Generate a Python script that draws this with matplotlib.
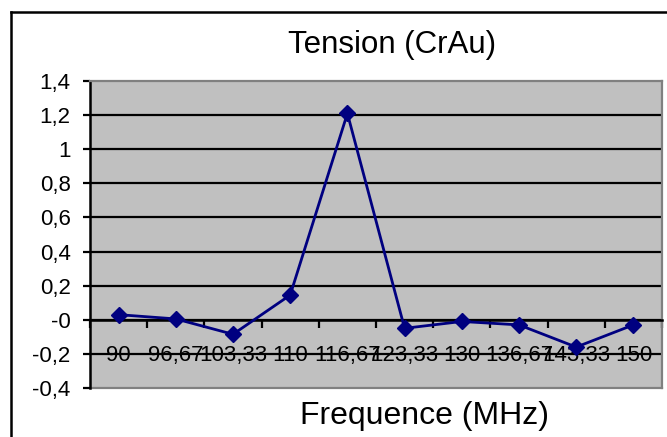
import matplotlib
matplotlib.use("Agg")
import matplotlib.pyplot as plt
from matplotlib.lines import Line2D

plt.rcParams["font.family"] = ["Liberation Sans", "DejaVu Sans"]

# data
freq_labels = ["90", "96,67", "103,33", "110", "116,67", "123,33", "130", "136,67", "143,33", "150"]
tension = [0.03, 0.005, -0.085, 0.145, 1.21, -0.05, -0.01, -0.03, -0.16, -0.03]
y_ticks = [-0.4, -0.2, 0.0, 0.2, 0.4, 0.6, 0.8, 1.0, 1.2, 1.4]
y_tick_labels = ["-0,4", "-0,2", "-0", "0,2", "0,4", "0,6", "0,8", "1", "1,2", "1,4"]

W, H = 667, 437
fig = plt.figure(figsize=(W / 100, H / 100), dpi=100)
fig.patch.set_facecolor("white")

# chart-area frame (only top and left edges are visible)
fig.add_artist(Line2D([11 / W, 11 / W], [0, 1 - 12 / H], color="black", lw=1.8,
                      transform=fig.transFigure))
fig.add_artist(Line2D([11 / W, 1], [1 - 12 / H, 1 - 12 / H], color="black", lw=1.8,
                      transform=fig.transFigure))

ax = fig.add_axes([90 / W, 49 / H, 572 / W, 307 / H])
ax.set_facecolor("#C0C0C0")

x = list(range(len(freq_labels)))
ax.plot(x, tension, color="#000080", lw=2, marker="D", ms=8, mfc="#000080", mec="#000080",
        zorder=4, clip_on=False)

ax.set_xlim(-0.5, len(freq_labels) - 0.5)
ax.set_ylim(-0.4, 1.4)

# horizontal gridlines
for yv in y_ticks[1:-1]:
    ax.axhline(yv, color="black", lw=1.6, zorder=1)

ax.set_yticks(y_ticks)
ax.set_yticklabels(y_tick_labels)
ax.tick_params(axis="y", direction="out", length=5, width=1.6, pad=9, labelsize=16)

# category axis crossing at zero: ticks between categories, labels at centres
ax.spines["bottom"].set_position(("data", 0))
ax.set_xticks([i - 0.5 for i in range(len(freq_labels) + 1)])
ax.set_xticklabels([])
ax.set_xticks(x, minor=True)
ax.set_xticklabels(freq_labels, minor=True)
ax.tick_params(axis="x", which="major", direction="out", length=6, width=1.6)
ax.tick_params(axis="x", which="minor", length=0, pad=18, labelsize=16)

ax.spines["bottom"].set_color("black")
ax.spines["bottom"].set_linewidth(1.8)
ax.spines["left"].set_color("black")
ax.spines["left"].set_linewidth(1.8)
for side in ["top", "right"]:
    ax.spines[side].set_color("#808080")
    ax.spines[side].set_linewidth(1.6)
ax.axhline(-0.4, color="#808080", lw=1.6, zorder=1, clip_on=False)

fig.text(392 / W, 1 - 45 / H, "Tension (CrAu)", ha="center", va="center", fontsize=22.5)
fig.text(425 / W, 1 - 416 / H, "Frequence (MHz)", ha="center", va="center", fontsize=23)

fig.savefig("out.png", dpi=100)
